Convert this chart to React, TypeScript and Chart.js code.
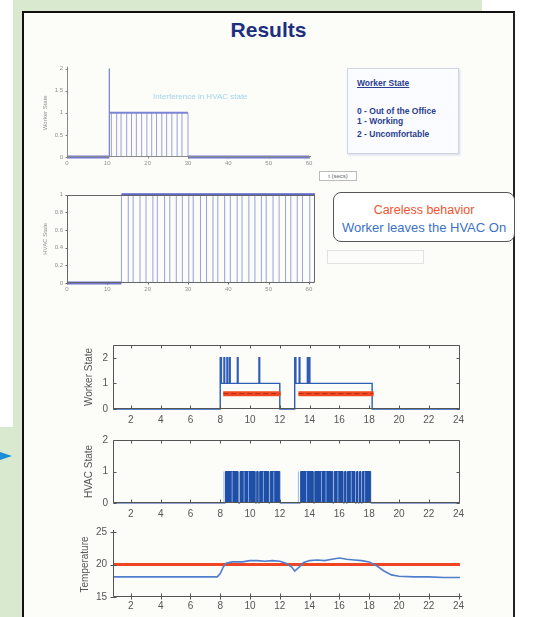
import React, { useEffect, useRef } from "react";
import { Chart, registerables } from "chart.js";

Chart.register(...registerables);

const FONT = "'Liberation Sans', Arial, Helvetica, sans-serif";

// ---------- Top panels: simulated run (seconds) ----------
const secTicks = [0, 10, 20, 30, 40, 50, 60];
const topWorkerYTicks = [0, 0.5, 1, 1.5, 2];
const topHvacYTicks = [0, 0.2, 0.4, 0.6, 0.8, 1];

const topWorkerSpikeT = [10.5];
const topWorkerSpikeV = [2];
const topWorkerStemT = [11, 12.3, 13.4, 14.8, 16, 17.2, 18.5, 19.8, 21, 22.2, 23.5, 24.7, 26, 27.3, 28.5, 30];
const topWorkerStemV = [1, 1, 1, 1, 1, 1, 1, 1, 1, 1, 1, 1, 1, 1, 1, 1];
const topWorkerOnStart = [10.5];
const topWorkerOnEnd = [30];
const topWorkerOffStart = [0, 30];
const topWorkerOffEnd = [10.5, 60];

const topHvacStemT = [13.5, 15.2, 16.4, 18.1, 19.6, 21.3, 22.4, 24.2, 25.5, 27.1, 28.6, 30.2, 31.3, 33.1, 34.6, 36.2, 37.4, 39.1, 40.5, 42.2, 43.4, 45.1, 46.6, 48.2, 49.4, 51.1, 52.6, 54.2, 55.5, 57.1, 58.4, 60.2];
const topHvacStemV = [1, 1, 1, 1, 1, 1, 1, 1, 1, 1, 1, 1, 1, 1, 1, 1, 1, 1, 1, 1, 1, 1, 1, 1, 1, 1, 1, 1, 1, 1, 1, 1];
const topHvacOnStart = [13.5];
const topHvacOnEnd = [61.5];
const topHvacOffStart = [0];
const topHvacOffEnd = [13.5];

// ---------- Bottom panels: one day (hours) ----------
const hourTicks = [2, 4, 6, 8, 10, 12, 14, 16, 18, 20, 22, 24];
const stateYTicks = [0, 1, 2];
const tempYTicks = [15, 20, 25];

const workerT = [0.8, 8.0, 8.08, 8.25, 8.3, 8.45, 8.5, 8.62, 8.67, 9.15, 9.2, 10.6, 10.65, 12.0, 13.0, 13.08, 13.3, 13.35, 13.85, 13.9, 13.97, 14.02, 18.2, 24.1];
const workerV = [0, 2, 1, 2, 1, 2, 1, 2, 1, 2, 1, 2, 1, 0, 2, 1, 2, 1, 2, 1, 2, 1, 0, 0];
const presenceStart = [8.2, 13.25];
const presenceEnd = [12.05, 18.3];
const presenceLevel = 0.6;

const hvacT = [0.8, 8.35, 9.2, 9.33, 10.35, 10.45, 10.55, 10.65, 11.25, 11.35, 12.0, 13.4, 14.25, 14.35, 15.55, 15.65, 16.25, 16.35, 16.45, 16.55, 17.05, 17.15, 17.25, 17.35, 17.45, 17.55, 18.1, 24.1];
const hvacV = [0, 1, 0, 1, 0, 1, 0, 1, 0, 1, 0, 1, 0, 1, 0, 1, 0, 1, 0, 1, 0, 1, 0, 1, 0, 1, 0, 0];
const hvacLightT = [8.25, 8.8, 9.6, 9.9, 10.9, 11.6, 13.25, 13.8, 14.8, 15.1, 15.9, 16.8, 17.7];
const hvacLightV = [1, 1, 1, 1, 1, 1, 1, 1, 1, 1, 1, 1, 1];

const tempT = [0.8, 2, 4, 6, 7.8, 8.0, 8.2, 8.4, 8.8, 9.5, 10, 10.5, 11, 11.5, 12, 12.4, 12.8, 13.0, 13.3, 13.6, 14, 14.5, 15, 15.5, 16, 16.5, 17, 17.5, 18, 18.5, 19, 19.5, 20, 21, 22, 23, 24.1];
const tempV = [18.1, 18.1, 18.1, 18.1, 18.1, 18.6, 19.6, 20.2, 20.4, 20.4, 20.6, 20.6, 20.5, 20.6, 20.5, 20.2, 19.6, 19.0, 19.6, 20.3, 20.6, 20.7, 20.6, 20.8, 21.0, 20.8, 20.7, 20.6, 20.4, 19.8, 19.0, 18.4, 18.2, 18.1, 18.1, 18.0, 18.0];
const setpointT = [0.8, 24.1];
const setpointV = [20, 20];

// ---------- helpers ----------
function stems(ts: number[], vs: number[]) {
  const pts: any[] = [];
  ts.forEach((t, i) => {
    pts.push({ x: t, y: 0 }, { x: t, y: vs[i] }, { x: t, y: null });
  });
  return pts;
}
function segments(starts: number[], ends: number[], level: number) {
  const pts: any[] = [];
  starts.forEach((s, i) => {
    pts.push({ x: s, y: level }, { x: ends[i], y: level }, { x: ends[i], y: null });
  });
  return pts;
}
function series(ts: number[], vs: number[]) {
  return ts.map((t, i) => ({ x: t, y: vs[i] }));
}

const framePlugin = {
  id: "frame",
  afterDatasetsDraw(chart: any, _a: any, o: any) {
    const { ctx, chartArea: a } = chart;
    const xs = chart.scales.x;
    const ys = chart.scales.y;
    ctx.save();
    ctx.strokeStyle = o.color || "#555";
    ctx.lineWidth = o.width || 1;
    ctx.beginPath();
    const L = Math.round(a.left) + 0.5;
    const R = Math.round(a.right) - 0.5;
    const T = Math.round(a.top) + 0.5;
    const B = Math.round(a.bottom) - 0.5;
    ctx.moveTo(L, o.box ? T : a.top - 2);
    ctx.lineTo(L, B);
    ctx.lineTo(o.box ? R : a.right + 2, B);
    if (o.box) {
      ctx.lineTo(R, T);
      ctx.lineTo(L, T);
    }
    const tl = o.tickLen || 0;
    const out = o.tickOut || 0;
    xs.ticks.forEach((t: any) => {
      const x = Math.round(xs.getPixelForValue(t.value)) + 0.5;
      ctx.moveTo(x, B + out);
      ctx.lineTo(x, B - tl);
      if (o.box) {
        ctx.moveTo(x, T);
        ctx.lineTo(x, T + tl);
      }
    });
    ys.ticks.forEach((t: any) => {
      const y = Math.round(ys.getPixelForValue(t.value)) + 0.5;
      ctx.moveTo(L - out, y);
      ctx.lineTo(L + tl, y);
      if (o.box) {
        ctx.moveTo(R, y);
        ctx.lineTo(R - tl, y);
      }
    });
    ctx.stroke();
    ctx.restore();
  },
};

function axis(
  min: number,
  max: number,
  ticks: number[],
  size: number,
  color: string,
  pad: number,
  fit: number,
  horizontal: boolean,
  title?: { text: string; size: number; pad: number }
) {
  return {
    type: "linear",
    min,
    max,
    afterBuildTicks: (s: any) => {
      s.ticks = ticks.map((v) => ({ value: v }));
    },
    afterFit: (s: any) => {
      if (horizontal) s.height = fit;
      else s.width = fit;
    },
    grid: { display: false, drawTicks: false },
    border: { display: false },
    ticks: {
      font: { family: FONT, size },
      color,
      padding: pad,
      autoSkip: false,
      maxRotation: 0,
      minRotation: 0,
      callback: (v: any) => String(Math.round(Number(v) * 100) / 100),
    },
    title: title
      ? {
          display: true,
          text: title.text,
          font: { family: FONT, size: title.size },
          color,
          padding: { top: title.pad, bottom: 0 },
        }
      : { display: false },
  };
}

type PlotProps = {
  left: number;
  top: number;
  width: number;
  height: number;
  ySpace: number;
  xSpace: number;
  padTop?: number;
  padRight?: number;
  build: (padTop: number, padRight: number) => any;
};

function Plot({ left, top, width, height, ySpace, xSpace, padTop = 8, padRight = 12, build }: PlotProps) {
  const ref = useRef<HTMLCanvasElement>(null);
  const w = width + ySpace + padRight;
  const h = height + padTop + xSpace;
  useEffect(() => {
    const chart = new Chart(ref.current as HTMLCanvasElement, build(padTop, padRight));
    return () => chart.destroy();
  }, []);
  return (
    <div style={{ position: "absolute", left: left - ySpace, top: top - padTop, width: w, height: h }}>
      <canvas ref={ref} width={w} height={h} style={{ width: w, height: h, display: "block" }} />
    </div>
  );
}

function baseOptions(padTop: number, padRight: number, scales: any, frame: any) {
  return {
    responsive: false,
    animation: false,
    events: [],
    layout: { padding: { top: padTop, right: padRight, left: 0, bottom: 0 } },
    elements: { point: { radius: 0 }, line: { tension: 0 } },
    plugins: { legend: { display: false }, tooltip: { enabled: false }, frame },
    scales,
  };
}

function lineDs(data: any[], color: string, width: number, extra: any = {}) {
  return {
    data,
    borderColor: color,
    backgroundColor: color,
    borderWidth: width,
    pointRadius: 0,
    spanGaps: false,
    fill: false,
    clip: 6,
    ...extra,
  };
}

const topTickColor = "#8f8f8f";
const botTickColor = "#555";

export default function App() {
  const buildTopWorker = (pt: number, pr: number) => ({
    type: "line",
    data: {
      datasets: [
        lineDs(stems(topWorkerSpikeT, topWorkerSpikeV), "#7f86d8", 1.3),
        lineDs(segments(topWorkerOnStart, topWorkerOnEnd, 1), "#7c84d6", 2),
        lineDs(stems(topWorkerStemT, topWorkerStemV), "rgba(120,130,215,0.75)", 1),
        lineDs(segments(topWorkerOffStart, topWorkerOffEnd, 0), "#7277cf", 3),
      ],
    },
    options: baseOptions(
      pt,
      pr,
      {
        x: axis(0, 60, secTicks, 6, topTickColor, 3, 12, true),
        y: axis(0, 2, topWorkerYTicks, 6, topTickColor, 4, 30, false, { text: "Worker State", size: 6, pad: 5 }),
      },
      { box: false, color: "#8a8a8a", tickLen: 0, tickOut: 2 }
    ),
    plugins: [framePlugin],
  });

  const buildTopHvac = (pt: number, pr: number) => ({
    type: "line",
    data: {
      datasets: [
        lineDs(segments(topHvacOnStart, topHvacOnEnd, 1), "#5c66c8", 2.5),
        lineDs(stems(topHvacStemT, topHvacStemV), "rgba(110,122,212,0.7)", 1),
        lineDs(segments(topHvacOffStart, topHvacOffEnd, 0), "#6e74cc", 3),
      ],
    },
    options: baseOptions(
      pt,
      pr,
      {
        x: axis(0, 61.5, secTicks, 6, topTickColor, 3, 12, true),
        y: axis(0, 1, topHvacYTicks, 6, topTickColor, 4, 30, false, { text: "HVAC State", size: 6, pad: 5 }),
      },
      { box: true, color: "#666", tickLen: 0, tickOut: 2 }
    ),
    plugins: [framePlugin],
  });

  const buildWorker = (pt: number, pr: number) => ({
    type: "line",
    data: {
      datasets: [
        lineDs(segments(presenceStart, presenceEnd, presenceLevel), "#b82a14", 1, { borderDash: [5, 3] }),
        lineDs(segments(presenceStart, presenceEnd, presenceLevel), "#f04a22", 5),
        lineDs(series(workerT, workerV), "#2d5db5", 1.4, { stepped: "before" }),
      ],
    },
    options: baseOptions(
      pt,
      pr,
      {
        x: axis(0.8, 24.1, hourTicks, 10, botTickColor, 5, 20, true),
        y: axis(0, 2.5, stateYTicks, 10, botTickColor, 5, 40, false, { text: "Worker State", size: 10, pad: 10 }),
      },
      { box: true, color: "#555", tickLen: 3 }
    ),
    plugins: [framePlugin],
  });

  const buildHvac = (pt: number, pr: number) => ({
    type: "line",
    data: {
      datasets: [
        lineDs(stems(hvacLightT, hvacLightV), "rgba(140,175,235,0.9)", 1),
        lineDs(series(hvacT, hvacV), "#1f4ea6", 1, {
          stepped: "before",
          fill: "origin",
          backgroundColor: "#1f4ea6",
        }),
      ],
    },
    options: baseOptions(
      pt,
      pr,
      {
        x: axis(0.8, 24.1, hourTicks, 10, botTickColor, 5, 20, true),
        y: axis(0, 2, stateYTicks, 10, botTickColor, 5, 40, false, { text: "HVAC State", size: 10, pad: 10 }),
      },
      { box: true, color: "#555", tickLen: 3 }
    ),
    plugins: [framePlugin],
  });

  const buildTemp = (pt: number, pr: number) => ({
    type: "line",
    data: {
      datasets: [
        lineDs(series(tempT, tempV), "#4f7fcc", 1.6),
        lineDs(series(setpointT, setpointV), "#ef4523", 3),
      ],
    },
    options: baseOptions(
      pt,
      pr,
      {
        x: axis(0.8, 24.1, hourTicks, 10, botTickColor, 3, 17, true),
        y: axis(15, 25, tempYTicks, 10, botTickColor, 6, 40, false, { text: "Temperature", size: 10, pad: 6 }),
      },
      { box: false, color: "#555", tickLen: 3, tickOut: 3 }
    ),
    plugins: [framePlugin],
  });

  return (
    <div
      style={{
        position: "fixed",
        left: 0,
        top: 0,
        width: 533,
        height: 617,
        overflow: "hidden",
        background: "#ffffff",
        fontFamily: FONT,
      }}
    >
      {/* green backdrop */}
      <div style={{ position: "absolute", left: 13, top: 0, width: 469, height: 427, background: "#d8e9d0" }} />
      <div style={{ position: "absolute", left: 0, top: 427, width: 24, height: 190, background: "#d8e9d0" }} />
      {/* arrow */}
      <div
        style={{
          position: "absolute",
          left: 0,
          top: 452,
          width: 0,
          height: 0,
          borderLeft: "12px solid #1b8fd6",
          borderTop: "4px solid transparent",
          borderBottom: "4px solid transparent",
        }}
      />
      {/* slide */}
      <div
        style={{
          position: "absolute",
          left: 22,
          top: 11,
          width: 493,
          height: 700,
          boxSizing: "border-box",
          borderLeft: "2px solid #111",
          borderTop: "2px solid #111",
          borderRight: "2px solid #222",
          background: "#fcfcf8",
        }}
      />
      <div
        style={{
          position: "absolute",
          left: 22,
          width: 493,
          top: 17,
          textAlign: "center",
          fontSize: 21,
          fontWeight: "bold",
          color: "#1d2f7e",
          lineHeight: "26px",
        }}
      >
        Results
      </div>

      <Plot left={67} top={67} width={242} height={90} ySpace={30} xSpace={12} padTop={6} padRight={8} build={buildTopWorker} />
      <div style={{ position: "absolute", left: 153, top: 92, fontSize: 8, color: "#9fd6ea", whiteSpace: "nowrap" }}>
        Interference in HVAC state
      </div>
      <div
        style={{
          position: "absolute",
          left: 319,
          top: 171,
          width: 36,
          height: 8,
          border: "1px solid #bbb",
          fontSize: 6,
          lineHeight: "8px",
          color: "#666",
          textAlign: "center",
          background: "#fff",
        }}
      >
        t (secs)
      </div>
      <Plot left={67} top={193} width={248} height={90} ySpace={30} xSpace={12} padTop={6} padRight={8} build={buildTopHvac} />

      {/* worker state legend */}
      <div
        style={{
          position: "absolute",
          left: 347,
          top: 68,
          width: 112,
          height: 86,
          boxSizing: "border-box",
          border: "1px solid #cfd5e2",
          boxShadow: "1px 1px 2px #d5d9e6",
          background: "#fbfcff",
          color: "#2a3f8f",
          fontWeight: "bold",
          fontSize: 8.5,
          lineHeight: "10px",
          padding: "9px 0 0 9px",
          whiteSpace: "nowrap",
        }}
      >
        <div style={{ textDecoration: "underline" }}>Worker State</div>
        <div style={{ marginTop: 18 }}>0 - Out of the Office</div>
        <div>1 - Working</div>
        <div style={{ marginTop: 3 }}>2 - Uncomfortable</div>
      </div>

      {/* careless behaviour box */}
      <div
        style={{
          position: "absolute",
          left: 333,
          top: 192,
          width: 182,
          height: 50,
          boxSizing: "border-box",
          border: "1.5px solid #555",
          borderRadius: 8,
          background: "#fff",
          textAlign: "center",
          whiteSpace: "nowrap",
          paddingTop: 9,
        }}
      >
        <div style={{ color: "#ef5530", fontSize: 12.5, lineHeight: "16px" }}>Careless behavior</div>
        <div style={{ color: "#3d72c6", fontSize: 13, lineHeight: "20px" }}>Worker leaves the HVAC On</div>
      </div>
      <div style={{ position: "absolute", left: 327, top: 250, width: 95, height: 12, border: "1px solid #e2e2e2" }} />

      <Plot left={113} top={342} width={347} height={67} ySpace={40} xSpace={20} build={buildWorker} />
      <Plot left={113} top={437} width={347} height={66} ySpace={40} xSpace={20} build={buildHvac} />
      <Plot left={113} top={528} width={347} height={69} ySpace={40} xSpace={17} build={buildTemp} />
    </div>
  );
}
